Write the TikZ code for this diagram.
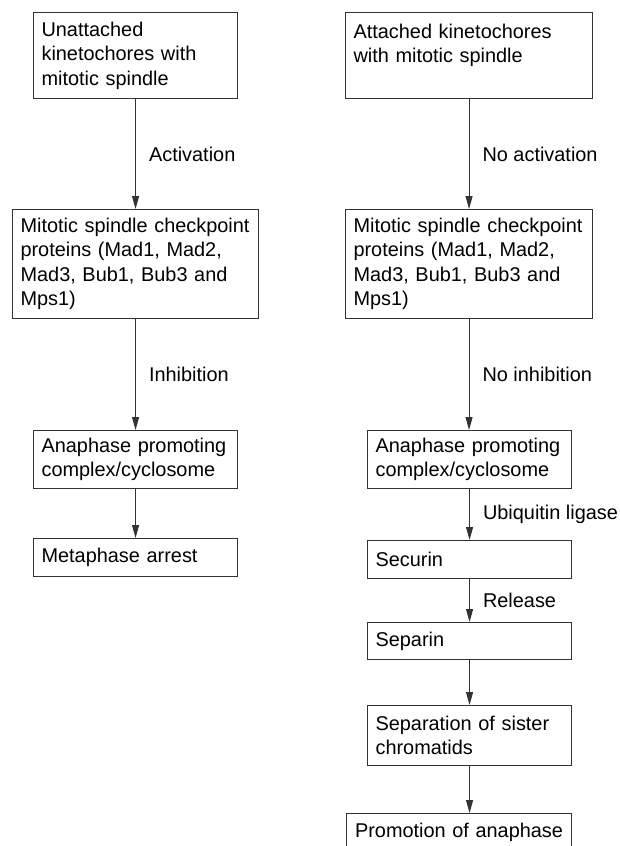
\documentclass[tikz,border=0pt]{standalone}
\usepackage{fontspec}
\setmainfont{Liberation Sans}
\usetikzlibrary{arrows.meta, positioning}

\begin{document}
\begin{tikzpicture}[x=1pt, y=-1pt,
  boite/.style={draw=black!80, line width=1.1pt, anchor=north west, align=left, inner xsep=8pt, inner ysep=0pt, font=\fontsize{19.9}{24.5}\selectfont},
  fleche/.style={draw=black!80, line width=1pt, -{Triangle[length=13pt, width=7pt]}},
  etiq/.style={right=13pt, inner sep=0pt, font=\fontsize{19.9}{24.5}\selectfont}
]
  \useasboundingbox (0,0) rectangle (619,846);
  % Colonne gauche
  \node[boite, text width=188pt, minimum height=86pt] (kinU) at (33,12) {Unattached\\kinetochores with\\mitotic spindle};
  \node[boite, text width=230pt, minimum height=109pt] (protG) at (12,209) {Mitotic spindle checkpoint\\proteins (Mad1, Mad2,\\Mad3, Bub1, Bub3 and\\Mps1)};
  \node[boite, text width=188pt, minimum height=58pt] (apcG) at (33,430) {Anaphase promoting\\complex/cyclosome};
  \node[boite, text width=188pt, minimum height=38pt] (meta) at (33,538) {Metaphase arrest};
  % Colonne droite
  \node[boite, text width=231pt, minimum height=86pt] (kinA) at (345,12) {Attached kinetochores\\with mitotic spindle\\\mbox{}};
  \node[boite, text width=231pt, minimum height=109pt] (protD) at (345,209) {Mitotic spindle checkpoint\\proteins (Mad1, Mad2,\\Mad3, Bub1, Bub3 and\\Mps1)};
  \node[boite, text width=188pt, minimum height=58pt] (apcD) at (367,430) {Anaphase promoting\\complex/cyclosome};
  \node[boite, text width=188pt, minimum height=38pt] (secu) at (367,540) {Securin};
  \node[boite, text width=188pt, minimum height=37pt] (sepa) at (367,622) {Separin};
  \node[boite, text width=188pt, minimum height=60pt] (separ) at (367,705) {Separation of sister\\chromatids};
  \node[boite, text width=209pt, minimum height=38pt, align=center] (promo) at (346,813) {Promotion of anaphase};
  % Fleches
  \draw[fleche] (kinU.south) -- node[etiq] {Activation} (kinU.south |- protG.north);
  \draw[fleche] (protG.south) -- node[etiq] {Inhibition} (protG.south |- apcG.north);
  \draw[fleche] (apcG.south) -- (apcG.south |- meta.north);
  \draw[fleche] (kinA.south) -- node[etiq] {No activation} (kinA.south |- protD.north);
  \draw[fleche] (protD.south) -- node[etiq] {No inhibition} (protD.south |- apcD.north);
  \draw[fleche] (apcD.south) -- node[etiq] {Ubiquitin ligase} (apcD.south |- secu.north);
  \draw[fleche] (secu.south) -- node[etiq] {Release} (secu.south |- sepa.north);
  \draw[fleche] (sepa.south) -- (sepa.south |- separ.north);
  \draw[fleche] (separ.south) -- (separ.south |- promo.north);
\end{tikzpicture}
\end{document}
